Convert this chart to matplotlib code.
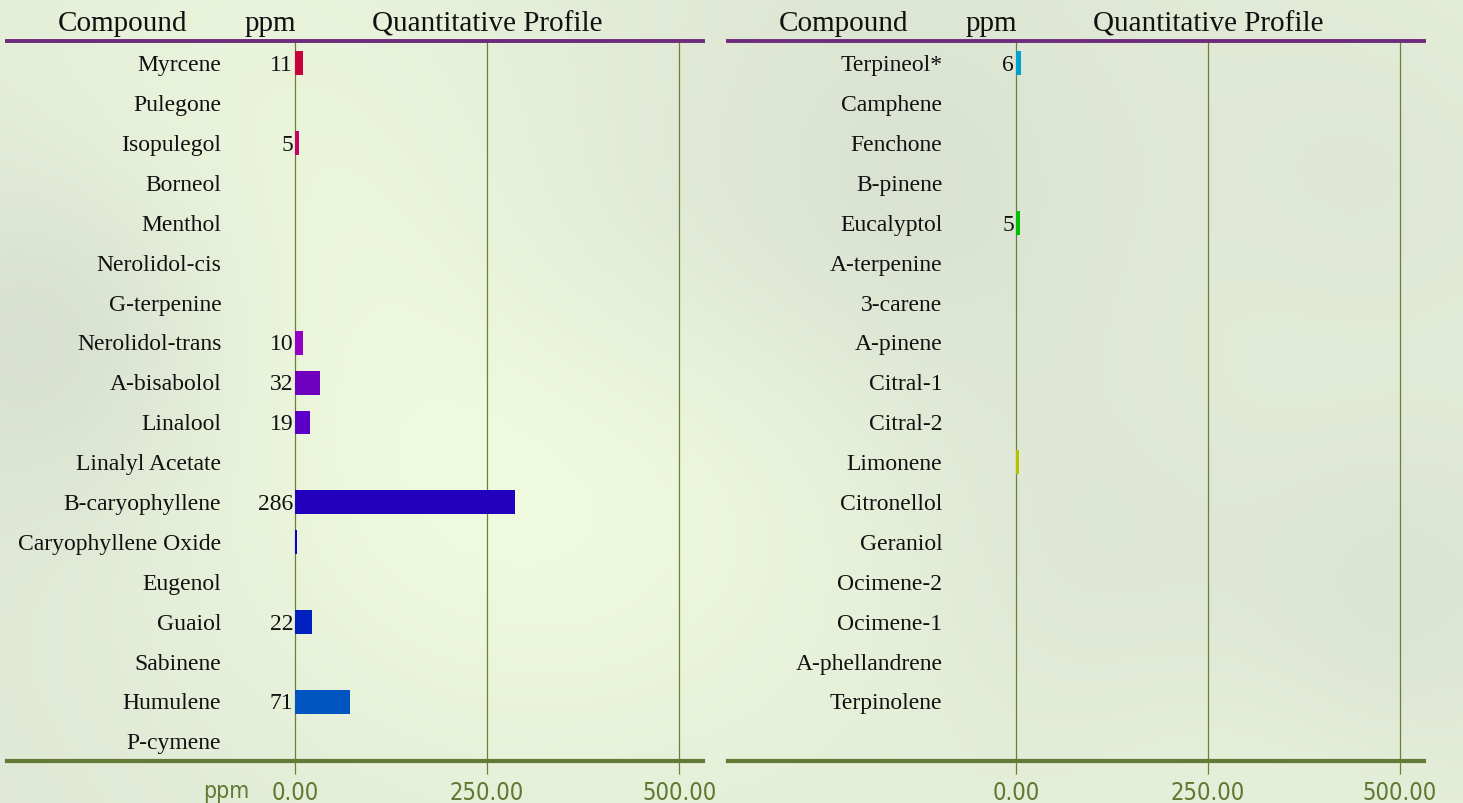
import numpy as np
import matplotlib
matplotlib.use('Agg')
import matplotlib.pyplot as plt

# left column
left_names = ['Myrcene', 'Pulegone', 'Isopulegol', 'Borneol', 'Menthol', 'Nerolidol-cis',
              'G-terpenine', 'Nerolidol-trans', 'A-bisabolol', 'Linalool', 'Linalyl Acetate',
              'B-caryophyllene', 'Caryophyllene Oxide', 'Eugenol', 'Guaiol', 'Sabinene',
              'Humulene', 'P-cymene']
left_ppm = [11, 0, 5, 0, 0, 0, 0, 10, 32, 19, 0, 286, 2, 0, 22, 0, 71, 0]
left_colors = ['#C8003C', '#C8004E', '#C80064', '#C0007A', '#B80090', '#AC00A8',
               '#A000BC', '#9400C8', '#7000C0', '#5A00C8', '#3C00C4', '#2200BE',
               '#0E00D0', '#0010C8', '#0020C0', '#0038C0', '#0055C0', '#0070C8']

# right column
right_names = ['Terpineol*', 'Camphene', 'Fenchone', 'B-pinene', 'Eucalyptol', 'A-terpenine',
               '3-carene', 'A-pinene', 'Citral-1', 'Citral-2', 'Limonene', 'Citronellol',
               'Geraniol', 'Ocimene-2', 'Ocimene-1', 'A-phellandrene', 'Terpinolene']
right_ppm = [6, 0, 0, 0, 5, 0, 0, 0, 0, 0, 4, 0, 0, 0, 0, 0, 0]
right_colors = ['#00A0D0', '#00B0B0', '#00B890', '#00BC60', '#00C000', '#30C000',
                '#50C000', '#68C000', '#80C000', '#98C000', '#B4C000', '#C0B000',
                '#C0A000', '#C09000', '#C08000', '#C07000', '#C06000']

ticks = [0, 250, 500]
tick_labels = ['0.00', '250.00', '500.00']

GRID = '#6B7F3A'
TOP = '#6E2A7C'
BOT = '#627A36'
TICKC = '#5E7A32'

fig = plt.figure(figsize=(14.63, 8.04), dpi=100)

# soft green background
bg = fig.add_axes([0, 0, 1, 1])
yy, xx = np.mgrid[0:804:4, 0:1463:4]
field = np.zeros_like(xx, dtype=float)
for cx, cy, s, a in [(500, 450, 260, 1.0), (200, 60, 220, 0.5), (1300, 700, 250, 0.6),
                     (1450, 50, 200, 0.5), (900, 400, 300, 0.3)]:
    field += a * np.exp(-((xx - cx) ** 2 + (yy - cy) ** 2) / (2 * s ** 2))
for cx, cy, s, a in [(60, 330, 120, 0.8), (900, 220, 160, 0.7), (1100, 560, 150, 0.6),
                     (1400, 600, 120, 0.7), (600, 250, 140, 0.4), (1380, 150, 140, 0.5)]:
    field -= a * np.exp(-((xx - cx) ** 2 + (yy - cy) ** 2) / (2 * s ** 2))
field = (field - field.min()) / (field.max() - field.min())
c0 = np.array([0.85, 0.88, 0.82])
c1 = np.array([0.94, 0.98, 0.87])
img = c0 + (c1 - c0) * field[..., None]
bg.imshow(img, extent=[0, 1, 0, 1], aspect='auto', interpolation='bicubic')
bg.axis('off')

W, H = 1463.0, 804.0
XMIN, XMAX = -375, 531.25
YTOP, YBOT = -0.563, 17.486
FS = 17


def panel(x0, names, vals, colors):
    ax = fig.add_axes([x0 / W, (H - 762) / H, 696 / W, 720 / H])
    ax.patch.set_alpha(0)
    ax.set_xlim(XMIN, XMAX)
    ax.set_ylim(YBOT, YTOP)
    for t in ticks:
        ax.axvline(t, color=GRID, lw=0.9, zorder=1)
    y = np.arange(len(names))
    ax.barh(y, vals, height=0.6, color=colors, zorder=2)
    for i, (nm, v) in enumerate(zip(names, vals)):
        ax.text(-96, i + 0.03, nm, ha='right', va='center', fontsize=FS,
                family='Liberation Serif', color='#111111')
        if v >= 5:
            ax.text(-2.5, i + 0.03, '%d' % v, ha='right', va='center', fontsize=FS,
                    family='Liberation Serif', color='#111111')
    for s in ['left', 'right', 'bottom']:
        ax.spines[s].set_visible(False)
    ax.spines['top'].set_color(TOP)
    ax.spines['top'].set_linewidth(2.8)
    ax.axhline(YBOT, color=BOT, lw=3, zorder=3, clip_on=False)
    ax.set_yticks([])
    ax.set_xticks(ticks)
    ax.set_xticklabels(tick_labels)
    ax.tick_params(axis='x', direction='out', length=9, width=0.9, color=GRID,
                   labelcolor=TICKC, labelsize=17, pad=5)
    for lb in ax.get_xticklabels():
        lb.set_family('DejaVu Sans')
        lb.set_stretch('condensed')
    hdr = dict(ha='center', va='center', fontsize=21, family='Liberation Serif',
               color='#111111')
    ytop = YTOP - 18 / 40.0
    ax.text(-225, ytop, 'Compound', **hdr)
    ax.text(-32, ytop, 'ppm', **hdr)
    ax.text(250, ytop, 'Quantitative Profile', **hdr)
    return ax


axl = panel(7, left_names, left_ppm, left_colors)
axr = panel(728, right_names, right_ppm, right_colors)
axl.text(-90, YBOT + 0.74, 'ppm', ha='center', va='center', fontsize=16.5,
         family='DejaVu Sans', stretch='condensed', color=TICKC, clip_on=False)

fig.savefig('out.png', dpi=100)
